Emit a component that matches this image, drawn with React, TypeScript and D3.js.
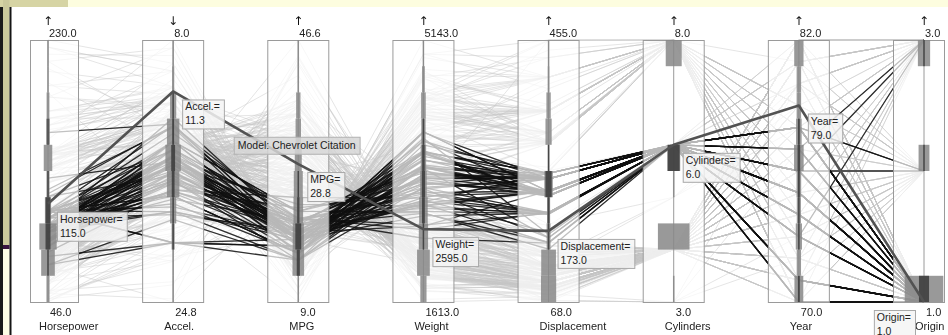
import React, { useEffect, useRef } from 'react';
import * as d3 from 'd3';

const WIDTH = 948;
const HEIGHT = 335;

// Each row: mpg, cylinders, displacement, horsepower, weight, acceleration, model year, origin
const CARS_1970_72: number[][] = [
  [18, 8, 307, 130, 3504, 12, 70, 1], [15, 8, 350, 165, 3693, 11.5, 70, 1], [18, 8, 318, 150, 3436, 11, 70, 1],
  [16, 8, 304, 150, 3433, 12, 70, 1], [17, 8, 302, 140, 3449, 10.5, 70, 1], [15, 8, 429, 198, 4341, 10, 70, 1],
  [14, 8, 454, 220, 4354, 9, 70, 1], [14, 8, 440, 215, 4312, 8.5, 70, 1], [14, 8, 455, 225, 4425, 10, 70, 1],
  [15, 8, 390, 190, 3850, 8.5, 70, 1], [15, 8, 383, 170, 3563, 10, 70, 1], [14, 8, 340, 160, 3609, 8, 70, 1],
  [15, 8, 400, 150, 3761, 9.5, 70, 1], [14, 8, 455, 225, 3086, 10, 70, 1], [24, 4, 113, 95, 2372, 15, 70, 3],
  [22, 6, 198, 95, 2833, 15.5, 70, 1], [18, 6, 199, 97, 2774, 15.5, 70, 1], [21, 6, 200, 85, 2587, 16, 70, 1],
  [27, 4, 97, 88, 2130, 14.5, 70, 3], [26, 4, 97, 46, 1835, 20.5, 70, 2], [25, 4, 110, 87, 2672, 17.5, 70, 2],
  [24, 4, 107, 90, 2430, 14.5, 70, 2], [25, 4, 104, 95, 2375, 17.5, 70, 2], [26, 4, 121, 113, 2234, 12.5, 70, 2],
  [21, 6, 199, 90, 2648, 15, 70, 1], [10, 8, 360, 215, 4615, 14, 70, 1], [10, 8, 307, 200, 4376, 15, 70, 1],
  [11, 8, 318, 210, 4382, 13.5, 70, 1], [9, 8, 304, 193, 4732, 18.5, 70, 1],
  [27, 4, 97, 88, 2130, 14.5, 71, 3], [28, 4, 140, 90, 2264, 15.5, 71, 1], [25, 4, 113, 95, 2228, 14, 71, 3],
  [19, 6, 232, 100, 2634, 13, 71, 1], [16, 6, 225, 105, 3439, 15.5, 71, 1], [17, 6, 250, 100, 3329, 15.5, 71, 1],
  [19, 6, 250, 88, 3302, 15.5, 71, 1], [18, 6, 232, 100, 3288, 15.5, 71, 1], [14, 8, 350, 165, 4209, 12, 71, 1],
  [14, 8, 400, 175, 4464, 11.5, 71, 1], [14, 8, 351, 153, 4154, 13.5, 71, 1], [14, 8, 318, 150, 4096, 13, 71, 1],
  [12, 8, 383, 180, 4955, 11.5, 71, 1], [13, 8, 400, 170, 4746, 12, 71, 1], [13, 8, 400, 175, 5140, 12, 71, 1],
  [18, 6, 258, 110, 2962, 13.5, 71, 1], [22, 4, 140, 72, 2408, 19, 71, 1], [19, 6, 250, 100, 3282, 15, 71, 1],
  [18, 6, 250, 88, 3139, 14.5, 71, 1], [23, 4, 122, 86, 2220, 14, 71, 1], [28, 4, 116, 90, 2123, 14, 71, 2],
  [30, 4, 79, 70, 2074, 19.5, 71, 2], [30, 4, 88, 76, 2065, 14.5, 71, 2], [31, 4, 71, 65, 1773, 19, 71, 3],
  [35, 4, 72, 69, 1613, 18, 71, 3], [27, 4, 97, 60, 1834, 19, 71, 2], [26, 4, 91, 70, 1955, 20.5, 71, 1],
  [24, 4, 113, 95, 2278, 15.5, 72, 3], [25, 4, 97.5, 80, 2126, 17, 72, 1], [23, 4, 97, 54, 2254, 23.5, 72, 2],
  [20, 4, 140, 90, 2408, 19.5, 72, 1], [21, 4, 122, 86, 2226, 16.5, 72, 1], [13, 8, 350, 165, 4274, 12, 72, 1],
  [14, 8, 400, 175, 4385, 12, 72, 1], [14, 8, 351, 153, 4129, 13, 72, 1], [28, 4, 97, 92, 2288, 17, 72, 3],
  [13, 8, 307, 130, 4098, 14, 72, 1], [19, 3, 70, 97, 2330, 13.5, 72, 3], [18, 4, 121, 112, 2933, 14.5, 72, 2],
  [22, 4, 121, 76, 2511, 18, 72, 2], [21, 4, 120, 87, 2979, 19.5, 72, 2], [26, 4, 96, 69, 2189, 18, 72, 2],
  [22, 4, 122, 86, 2395, 16, 72, 1], [23, 4, 120, 97, 2506, 14.5, 72, 3], [12, 8, 429, 198, 4952, 11.5, 72, 1],
  [15, 8, 318, 150, 4135, 13.5, 72, 1], [13, 8, 400, 190, 4422, 12.5, 72, 1],
];

const CARS_1973_75: number[][] = [
  [13, 8, 350, 175, 4100, 13, 73, 1], [14, 8, 304, 150, 3672, 11.5, 73, 1], [13, 8, 350, 145, 3988, 13, 73, 1],
  [12, 8, 400, 167, 4906, 12.5, 73, 1], [13, 8, 302, 137, 4042, 14.5, 73, 1], [11, 8, 429, 208, 4633, 11, 73, 1],
  [12, 8, 455, 225, 4951, 11, 73, 1], [16, 6, 250, 100, 3278, 18, 73, 1], [18, 6, 232, 100, 2945, 16, 73, 1],
  [18, 6, 250, 88, 3021, 16.5, 73, 1], [23, 6, 198, 95, 2904, 16, 73, 1], [26, 4, 97, 46, 1950, 21, 73, 2],
  [20, 4, 97, 88, 2279, 19, 73, 3], [22, 4, 108, 94, 2379, 16.5, 73, 3], [18, 3, 70, 90, 2124, 13.5, 73, 3],
  [19, 4, 122, 85, 2310, 18.5, 73, 1], [21, 6, 155, 107, 2472, 14, 73, 1], [26, 4, 98, 90, 2265, 15.5, 73, 2],
  [15, 8, 350, 145, 4082, 13, 73, 1], [16, 8, 400, 230, 4278, 9.5, 73, 1], [29, 4, 68, 49, 1867, 19.5, 73, 2],
  [24, 4, 116, 75, 2158, 15.5, 73, 2], [20, 4, 114, 91, 2582, 14, 73, 2], [19, 4, 121, 112, 2868, 15.5, 73, 2],
  [15, 8, 318, 150, 3399, 11, 73, 1], [24, 4, 121, 110, 2660, 14, 73, 2], [20, 6, 156, 122, 2807, 13.5, 73, 3],
  [11, 8, 350, 180, 3664, 11, 73, 1], [16, 6, 258, 110, 3632, 18, 73, 1], [17, 6, 231, 110, 3907, 21, 73, 1],
  [20, 6, 198, 95, 3102, 16.5, 74, 1], [21, 6, 200, 85, 2875, 17, 74, 1], [19, 6, 232, 100, 2901, 16, 74, 1],
  [15, 6, 250, 100, 3336, 17, 74, 1], [31, 4, 79, 67, 1950, 19, 74, 3], [26, 4, 122, 80, 2451, 16.5, 74, 1],
  [32, 4, 71, 65, 1836, 21, 74, 3], [25, 4, 140, 75, 2542, 17, 74, 1], [16, 6, 250, 100, 3781, 17, 74, 1],
  [16, 6, 258, 110, 3632, 18, 74, 1], [18, 6, 225, 105, 3613, 16.5, 74, 1], [16, 8, 302, 140, 4141, 14, 74, 1],
  [13, 8, 350, 150, 4699, 14.5, 74, 1], [14, 8, 318, 150, 4457, 13.5, 74, 1], [14, 8, 302, 140, 4638, 16, 74, 1],
  [14, 8, 304, 150, 4257, 15.5, 74, 1], [29, 4, 98, 83, 2219, 16.5, 74, 2], [26, 4, 79, 67, 1963, 15.5, 74, 2],
  [26, 4, 97, 78, 2300, 14.5, 74, 2], [31, 4, 76, 52, 1649, 16.5, 74, 3], [32, 4, 83, 61, 2003, 19, 74, 3],
  [28, 4, 90, 75, 2125, 14.5, 74, 1], [24, 4, 90, 75, 2108, 15.5, 74, 2], [26, 4, 116, 75, 2246, 14, 74, 2],
  [24, 4, 120, 97, 2489, 15, 74, 3], [26, 4, 108, 93, 2391, 15.5, 74, 3], [31, 4, 79, 67, 2000, 16, 74, 2],
  [20, 6, 232, 100, 2914, 16, 75, 1], [15, 6, 250, 72, 3432, 21, 75, 1], [15, 6, 250, 72, 3158, 19.5, 75, 1],
  [16, 8, 400, 170, 4668, 11.5, 75, 1], [15, 8, 350, 145, 4440, 14, 75, 1], [16, 8, 318, 150, 4498, 14.5, 75, 1],
  [14, 8, 351, 148, 4657, 13.5, 75, 1], [17, 6, 231, 110, 3907, 21, 75, 1], [16, 6, 250, 105, 3897, 18.5, 75, 1],
  [15, 6, 258, 110, 3730, 19, 75, 1], [18, 6, 225, 95, 3785, 19, 75, 1], [21, 6, 231, 110, 3039, 15, 75, 1],
  [20, 8, 262, 110, 3221, 13.5, 75, 1], [13, 8, 302, 129, 3169, 12, 75, 1], [29, 4, 97, 75, 2171, 16, 75, 3],
  [23, 4, 140, 83, 2639, 17, 75, 1], [23, 4, 140, 78, 2592, 18.5, 75, 1], [24, 4, 134, 96, 2702, 13.5, 75, 3],
  [25, 4, 90, 71, 2223, 16.5, 75, 2], [24, 4, 119, 97, 2545, 17, 75, 3], [18, 6, 171, 97, 2984, 14.5, 75, 1],
  [29, 4, 90, 70, 1937, 14, 75, 2], [19, 6, 232, 90, 3211, 17, 75, 1], [23, 4, 115, 95, 2694, 15, 75, 2],
  [23, 4, 120, 88, 2957, 17, 75, 2], [22, 4, 121, 98, 2945, 14.5, 75, 2], [25, 4, 121, 115, 2671, 13.5, 75, 2],
  [33, 4, 91, 53, 1795, 17.5, 75, 3], [19, 6, 225, 95, 3264, 16, 75, 1], [18, 6, 250, 105, 3459, 16, 75, 1],
];

const CARS_1976_78: number[][] = [
  [28, 4, 107, 86, 2464, 15.5, 76, 2], [25, 4, 116, 81, 2220, 16.9, 76, 2], [25, 4, 140, 92, 2572, 14.9, 76, 1],
  [26, 4, 98, 79, 2255, 17.7, 76, 1], [27, 4, 101, 83, 2202, 15.3, 76, 2], [17.5, 8, 305, 140, 4215, 13, 76, 1],
  [16, 8, 318, 150, 4190, 13, 76, 1], [15.5, 8, 304, 120, 3962, 13.9, 76, 1], [14.5, 8, 351, 152, 4215, 12.8, 76, 1],
  [22, 6, 250, 105, 3353, 14.5, 76, 1], [22, 6, 225, 100, 3233, 15.4, 76, 1], [24, 6, 200, 81, 3012, 17.6, 76, 1],
  [22.5, 6, 232, 90, 3085, 17.6, 76, 1], [29, 4, 85, 52, 2035, 22.2, 76, 1], [24.5, 4, 98, 60, 2164, 22.1, 76, 1],
  [29, 4, 90, 70, 1937, 14.2, 76, 2], [33, 4, 91, 53, 1795, 17.4, 76, 3], [20, 6, 225, 100, 3651, 17.7, 76, 1],
  [18, 6, 250, 78, 3574, 21, 76, 1], [18.5, 6, 250, 110, 3645, 16.2, 76, 1], [17.5, 6, 258, 95, 3193, 17.8, 76, 1],
  [29.5, 4, 97, 71, 1825, 12.2, 76, 2], [32, 4, 85, 70, 1990, 17, 76, 3], [28, 4, 97, 75, 2155, 16.4, 76, 3],
  [26.5, 4, 140, 72, 2565, 13.6, 76, 1], [20, 4, 130, 102, 3150, 15.7, 76, 2], [13, 8, 318, 150, 3940, 13.2, 76, 1],
  [19, 4, 120, 88, 3270, 21.9, 76, 2], [19, 6, 156, 108, 2930, 15.5, 76, 3], [16.5, 6, 168, 120, 3820, 16.7, 76, 2],
  [16.5, 8, 350, 180, 4380, 12.1, 76, 1], [13, 8, 350, 145, 4055, 12, 76, 1], [13, 8, 302, 130, 3870, 15, 76, 1],
  [31.5, 4, 98, 68, 2045, 18.5, 77, 3], [30, 4, 111, 80, 2155, 14.8, 77, 1], [36, 4, 79, 58, 1825, 18.6, 77, 2],
  [25.5, 4, 122, 96, 2300, 15.5, 77, 1], [33.5, 4, 85, 70, 1945, 16.8, 77, 3], [17.5, 8, 305, 145, 3880, 12.5, 77, 1],
  [17, 8, 260, 110, 4060, 19, 77, 1], [15.5, 8, 318, 145, 4140, 13.7, 77, 1], [15, 8, 302, 130, 4295, 14.9, 77, 1],
  [17.5, 6, 250, 110, 3520, 16.4, 77, 1], [20.5, 6, 231, 105, 3425, 16.9, 77, 1], [19, 6, 225, 100, 3630, 17.7, 77, 1],
  [18.5, 6, 250, 98, 3525, 19, 77, 1], [16, 8, 400, 180, 4220, 11.1, 77, 1], [15.5, 8, 350, 170, 4165, 11.4, 77, 1],
  [15.5, 8, 400, 190, 4325, 12.2, 77, 1], [16, 8, 351, 149, 4335, 14.5, 77, 1], [29, 4, 97, 78, 1940, 14.5, 77, 2],
  [24.5, 4, 151, 88, 2740, 16, 77, 1], [26, 4, 97, 75, 2265, 18.2, 77, 3], [25.5, 4, 140, 89, 2755, 15.8, 77, 1],
  [30.5, 4, 98, 63, 2051, 17, 77, 1], [33.5, 4, 98, 83, 2075, 15.9, 77, 1], [30, 4, 97, 67, 1985, 16.4, 77, 3],
  [30.5, 4, 97, 78, 2190, 14.1, 77, 2], [22, 6, 146, 97, 2815, 14.5, 77, 3], [21.5, 4, 121, 110, 2600, 12.8, 77, 2],
  [21.5, 3, 80, 110, 2720, 13.5, 77, 3], [43.1, 4, 90, 48, 1985, 21.5, 78, 2], [36.1, 4, 98, 66, 1800, 14.4, 78, 1],
  [32.8, 4, 78, 52, 1985, 19.4, 78, 3], [39.4, 4, 85, 70, 2070, 18.6, 78, 3], [36.1, 4, 91, 60, 1800, 16.4, 78, 3],
  [19.9, 8, 260, 110, 3365, 15.5, 78, 1], [19.4, 8, 318, 140, 3735, 13.2, 78, 1], [20.2, 8, 302, 139, 3570, 12.8, 78, 1],
  [19.2, 6, 231, 105, 3535, 19.2, 78, 1], [20.5, 6, 200, 95, 3155, 18.2, 78, 1], [20.2, 6, 200, 85, 2965, 15.8, 78, 1],
  [25.1, 4, 140, 88, 2720, 15.4, 78, 1], [20.5, 6, 225, 100, 3430, 17.2, 78, 1], [19.4, 6, 232, 90, 3210, 17.2, 78, 1],
  [20.6, 6, 231, 105, 3380, 15.8, 78, 1], [20.8, 6, 200, 85, 3070, 16.7, 78, 1], [18.6, 6, 225, 110, 3620, 18.7, 78, 1],
  [18.1, 6, 258, 120, 3410, 15.1, 78, 1], [19.2, 8, 305, 145, 3425, 13.2, 78, 1], [17.7, 6, 231, 165, 3445, 13.4, 78, 1],
  [18.1, 8, 302, 139, 3205, 11.2, 78, 1], [17.5, 8, 318, 140, 4080, 13.7, 78, 1], [30, 4, 98, 68, 2155, 16.5, 78, 1],
  [27.5, 4, 134, 95, 2560, 14.2, 78, 3], [27.2, 4, 119, 97, 2300, 14.7, 78, 3], [30.9, 4, 105, 75, 2230, 14.5, 78, 1],
  [21.1, 4, 134, 95, 2515, 14.8, 78, 3], [23.2, 4, 156, 105, 2745, 16.7, 78, 1], [23.8, 4, 151, 85, 2855, 17.6, 78, 1],
  [23.9, 4, 119, 97, 2405, 14.9, 78, 3], [20.3, 5, 131, 103, 2830, 15.9, 78, 2], [17, 6, 163, 125, 3140, 13.6, 78, 2],
  [21.6, 4, 121, 115, 2795, 15.7, 78, 2], [16.2, 6, 163, 133, 3410, 15.8, 78, 2], [31.5, 4, 89, 71, 1990, 14.9, 78, 2],
  [29.5, 4, 98, 68, 2135, 16.6, 78, 3],
];

const CARS_1979_82: number[][] = [
  [21.5, 6, 231, 115, 3245, 15.4, 79, 1], [19.8, 6, 200, 85, 2990, 18.2, 79, 1], [22.3, 4, 140, 88, 2890, 17.3, 79, 1],
  [20.2, 6, 232, 90, 3265, 18.2, 79, 1], [20.6, 6, 225, 110, 3360, 16.6, 79, 1], [17, 8, 305, 130, 3840, 15.4, 79, 1],
  [17.6, 8, 302, 129, 3725, 13.4, 79, 1], [16.5, 8, 351, 138, 3955, 13.2, 79, 1], [18.2, 8, 318, 135, 3830, 15.2, 79, 1],
  [16.9, 8, 350, 155, 4360, 14.9, 79, 1], [15.5, 8, 351, 142, 4054, 14.3, 79, 1], [19.2, 8, 267, 125, 3605, 15, 79, 1],
  [18.5, 8, 360, 150, 3940, 13, 79, 1], [31.9, 4, 89, 71, 1925, 14, 79, 2], [34.1, 4, 86, 65, 1975, 15.2, 79, 3],
  [35.7, 4, 98, 80, 1915, 14.4, 79, 1], [27.4, 4, 121, 80, 2670, 15, 79, 1], [25.4, 5, 183, 77, 3530, 20.1, 79, 2],
  [23, 8, 350, 125, 3900, 17.4, 79, 1], [27.2, 4, 141, 71, 3190, 24.8, 79, 2], [23.9, 8, 260, 90, 3420, 22.2, 79, 1],
  [34.2, 4, 105, 70, 2200, 13.2, 79, 1], [34.5, 4, 105, 70, 2150, 14.9, 79, 1], [31.8, 4, 85, 65, 2020, 19.2, 79, 3],
  [37.3, 4, 91, 69, 2130, 14.7, 79, 2], [28.4, 4, 151, 90, 2670, 16, 79, 1], [28.8, 6, 173, 115, 2595, 11.3, 79, 1],
  [26.8, 6, 173, 115, 2700, 12.9, 79, 1], [33.5, 4, 151, 90, 2556, 13.2, 79, 1], [41.5, 4, 98, 76, 2144, 14.7, 80, 2],
  [38.1, 4, 89, 60, 1968, 18.8, 80, 3], [32.1, 4, 98, 70, 2120, 15.5, 80, 1], [37.2, 4, 86, 65, 2019, 16.4, 80, 3],
  [28, 4, 151, 90, 2678, 16.5, 80, 1], [26.4, 4, 140, 88, 2870, 18.1, 80, 1], [24.3, 4, 151, 90, 3003, 20.1, 80, 1],
  [19.1, 6, 225, 90, 3381, 18.7, 80, 1], [34.3, 4, 97, 78, 2188, 15.8, 80, 2], [29.8, 4, 134, 90, 2711, 15.5, 80, 3],
  [31.3, 4, 120, 75, 2542, 17.5, 80, 3], [37, 4, 119, 92, 2434, 15, 80, 3], [32.2, 4, 108, 75, 2265, 15.2, 80, 3],
  [46.6, 4, 86, 65, 2110, 17.9, 80, 3], [27.9, 4, 156, 105, 2800, 14.4, 80, 1], [40.8, 4, 85, 65, 2110, 19.2, 80, 3],
  [44.3, 4, 90, 48, 2085, 21.7, 80, 2], [43.4, 4, 90, 48, 2335, 23.7, 80, 2], [36.4, 5, 121, 67, 2950, 19.9, 80, 2],
  [30, 4, 146, 67, 3250, 21.8, 80, 2], [32.7, 6, 168, 132, 2910, 11.4, 80, 3], [23.7, 3, 70, 100, 2420, 12.5, 80, 3],
  [35, 4, 122, 88, 2500, 15.1, 80, 2], [32.4, 4, 107, 72, 2290, 17, 80, 3], [27.2, 4, 135, 84, 2490, 15.7, 81, 1],
  [26.6, 4, 151, 84, 2635, 16.4, 81, 1], [25.8, 4, 156, 92, 2620, 14.4, 81, 1], [23.5, 6, 173, 110, 2725, 12.6, 81, 1],
  [30, 4, 135, 84, 2385, 12.9, 81, 1], [39, 4, 79, 58, 1755, 16.9, 81, 3], [35.1, 4, 81, 60, 1760, 16.1, 81, 3],
  [32.3, 4, 97, 67, 2065, 17.8, 81, 3], [37, 4, 85, 65, 1975, 19.4, 81, 3], [37.7, 4, 89, 62, 2050, 17.3, 81, 3],
  [34.1, 4, 91, 68, 1985, 16, 81, 3], [34.7, 4, 105, 63, 2215, 14.9, 81, 1], [34.4, 4, 98, 65, 2045, 16.2, 81, 1],
  [29.9, 4, 98, 65, 2380, 20.7, 81, 1], [33, 4, 105, 74, 2190, 14.2, 81, 2], [33.7, 4, 107, 75, 2210, 14.4, 81, 3],
  [32.4, 4, 108, 75, 2350, 16.8, 81, 3], [32.9, 4, 119, 100, 2615, 14.8, 81, 3], [31.6, 4, 120, 74, 2635, 18.3, 81, 3],
  [28.1, 4, 141, 80, 3230, 20.4, 81, 2], [30.7, 6, 145, 76, 3160, 19.6, 81, 2], [25.4, 6, 168, 116, 2900, 12.6, 81, 3],
  [24.2, 6, 146, 120, 2930, 13.8, 81, 3], [22.4, 6, 231, 110, 3415, 15.8, 81, 1], [26.6, 8, 350, 105, 3725, 19, 81, 1],
  [20.2, 6, 200, 88, 3060, 17.1, 81, 1], [17.6, 6, 225, 85, 3465, 16.6, 81, 1], [28, 4, 112, 88, 2605, 19.6, 82, 1],
  [27, 4, 112, 88, 2640, 18.6, 82, 1], [34, 4, 112, 88, 2395, 18, 82, 1], [31, 4, 112, 85, 2575, 16.2, 82, 1],
  [29, 4, 135, 84, 2525, 16, 82, 1], [27, 4, 151, 90, 2735, 18, 82, 1], [24, 4, 140, 92, 2865, 16.4, 82, 1],
  [36, 4, 105, 74, 1980, 15.3, 82, 2], [37, 4, 91, 68, 2025, 18.2, 82, 3], [31, 4, 91, 68, 1970, 17.6, 82, 3],
  [38, 4, 105, 63, 2125, 14.7, 82, 1], [36, 4, 98, 70, 2125, 17.3, 82, 1], [36, 4, 120, 88, 2160, 14.5, 82, 3],
  [36, 4, 107, 75, 2205, 14.5, 82, 3], [34, 4, 108, 70, 2245, 16.9, 82, 3], [38, 4, 91, 67, 1965, 15, 82, 3],
  [32, 4, 91, 67, 1965, 15.7, 82, 3], [38, 6, 262, 85, 3015, 17, 82, 1], [25, 6, 181, 110, 2945, 16.4, 82, 1],
  [26, 4, 156, 92, 2585, 14.5, 82, 1], [22, 6, 232, 112, 2835, 14.7, 82, 1], [32, 4, 144, 96, 2665, 13.9, 82, 3],
  [36, 4, 135, 84, 2370, 13, 82, 1], [27, 4, 151, 90, 2950, 17.3, 82, 1], [27, 4, 140, 86, 2790, 15.6, 82, 1],
  [44, 4, 97, 52, 2130, 24.6, 82, 2], [32, 4, 135, 84, 2295, 11.6, 82, 1], [28, 4, 120, 79, 2625, 18.6, 82, 1],
  [31, 4, 119, 82, 2720, 19.4, 82, 1],
];

// Car under the pointer
const FOCUS_CAR = [28.8, 6, 173, 115, 2595, 11.3, 79, 1];
const FOCUS_MODEL = 'Chevrolet Citation';

// Brushed subset: six-cylinder cars up to model year 78
const BRUSH_CYLINDERS = 6;
const BRUSH_LAST_YEAR = 78;

const DIMENSIONS = ['Horsepower', 'Accel.', 'MPG', 'Weight', 'Displacement', 'Cylinders', 'Year', 'Origin'];
const DIM_COLUMN = [3, 5, 0, 4, 2, 1, 6, 7];
const DIM_TOP = [230, 8, 46.6, 5143, 455, 8, 82, 3];
const DIM_BOTTOM = [46, 24.8, 9, 1613, 68, 3, 70, 1];
const DIM_ARROW = ['↑', '↓', '↑', '↑', '↑', '↑', '↑', '↑'];

// Ten-bin histograms per axis, listed from the bottom of the axis to the top
const HIST_ALL = [
  [20, 88, 112, 40, 20, 55, 25, 18, 4, 8],
  [3, 6, 20, 40, 80, 100, 80, 40, 14, 5],
  [6, 75, 72, 62, 58, 45, 35, 28, 10, 4],
  [40, 82, 60, 55, 42, 35, 28, 30, 18, 8],
  [98, 95, 25, 20, 55, 10, 40, 28, 12, 8],
  [4, 0, 204, 0, 3, 84, 0, 0, 0, 103],
  [57, 28, 40, 27, 30, 62, 36, 29, 29, 60],
  [249, 0, 0, 0, 0, 70, 0, 0, 0, 79],
];
const HIST_BRUSHED = [
  [0, 6, 32, 30, 3, 0, 1, 0, 0, 0],
  [0, 0, 2, 6, 18, 25, 12, 3, 0, 0],
  [0, 20, 38, 15, 2, 0, 0, 0, 0, 0],
  [0, 0, 4, 18, 20, 16, 5, 0, 0, 0],
  [0, 0, 5, 12, 40, 3, 0, 0, 0, 0],
  [0, 0, 0, 0, 0, 76, 0, 0, 0, 0],
  [12, 0, 8, 7, 12, 17, 12, 0, 0, 0],
  [65, 0, 0, 0, 0, 3, 0, 0, 0, 4],
];

const FONT = '"Liberation Sans", Arial, sans-serif';

export default function App() {
  const ref = useRef<SVGSVGElement>(null);

  useEffect(() => {
    const svg = d3.select(ref.current);
    svg.selectAll('*').remove();

    // pass-through filter: text drawn through it is smoothed in plain grey
    svg.append('defs')
      .append('filter')
      .attr('id', 'grey-text')
      .append('feOffset')
      .attr('dx', 0)
      .attr('dy', 0);

    const cars = [...CARS_1970_72, ...CARS_1973_75, ...CARS_1976_78, ...CARS_1979_82];
    const brushed = cars.filter((c) => c[1] === BRUSH_CYLINDERS && c[6] <= BRUSH_LAST_YEAR);

    const top = 40;
    const bottom = 302;
    const x = d3.scalePoint<string>().domain(DIMENSIONS).range([48, 924]);
    const y = DIMENSIONS.map((_, i) =>
      d3.scaleLinear().domain([DIM_BOTTOM[i], DIM_TOP[i]]).range([bottom, top])
    );
    const barWidth = d3.scaleLinear().domain([0, 200]).range([0, 31]);

    const line = d3
      .line<number>()
      .x((_, i) => x(DIMENSIONS[i]) as number)
      .y((v, i) => y[i](v));
    const pathOf = (car: number[]) => line(DIM_COLUMN.map((c) => car[c]));

    // page chrome
    svg.append('rect').attr('width', WIDTH).attr('height', HEIGHT).attr('fill', '#ffffff');
    svg.append('rect').attr('width', WIDTH).attr('height', 7).attr('fill', '#fdfddf');
    svg.append('rect').attr('width', 68).attr('height', 7).attr('fill', '#d6d4a4');
    svg.append('rect').attr('x', 0).attr('y', 7).attr('width', 3).attr('height', HEIGHT - 7).attr('fill', '#1a1a1a');
    svg.append('rect').attr('x', 3).attr('y', 0).attr('width', 6.5).attr('height', 245).attr('fill', '#cbc99c');
    svg.append('rect').attr('x', 3).attr('y', 245).attr('width', 6.5).attr('height', 4).attr('fill', '#3a1442');
    svg.append('rect').attr('x', 3).attr('y', 249).attr('width', 6.5).attr('height', HEIGHT - 249).attr('fill', '#fdfde6');
    svg.append('rect').attr('x', 9.5).attr('y', 7).attr('width', 2).attr('height', HEIGHT - 7).attr('fill', '#151515');

    // context lines
    svg.append('g')
      .selectAll('path')
      .data(cars)
      .join('path')
      .attr('d', pathOf)
      .attr('fill', 'none')
      .attr('stroke', '#c6c6c6')
      .attr('stroke-opacity', 0.45)
      .attr('stroke-width', 1);

    // brushed lines
    svg.append('g')
      .selectAll('path')
      .data(brushed)
      .join('path')
      .attr('d', pathOf)
      .attr('fill', 'none')
      .attr('stroke', '#111111')
      .attr('stroke-opacity', 0.85)
      .attr('stroke-width', 1.3);

    // axis frames
    const frames = svg.append('g');
    DIMENSIONS.forEach((d) => {
      const ax = x(d) as number;
      const x0 = Math.max(30, ax - 31);
      const x1 = Math.min(945, ax + 31);
      frames.append('rect')
        .attr('x', x0 + 0.5).attr('y', top + 0.5)
        .attr('width', x1 - x0 - 1).attr('height', bottom - top)
        .attr('fill', '#ffffff').attr('fill-opacity', 0.7)
        .attr('stroke', '#9a9a9a').attr('stroke-width', 1);
      frames.append('line')
        .attr('x1', ax).attr('x2', ax).attr('y1', top).attr('y2', bottom)
        .attr('stroke', '#9a9a9a').attr('stroke-width', 1);
    });

    // histograms on each axis
    const hist = svg.append('g');
    DIMENSIONS.forEach((d, i) => {
      const ax = x(d) as number;
      const step = (DIM_TOP[i] - DIM_BOTTOM[i]) / 10;
      const drawBins = (counts: number[], fill: string, opacity: number) => {
        counts.forEach((n, j) => {
          if (!n) return;
          const lo = y[i](DIM_BOTTOM[i] + j * step);
          const hi = y[i](DIM_BOTTOM[i] + (j + 1) * step);
          const w = Math.max(1.5, barWidth(n));
          hist.append('rect')
            .attr('x', ax - w / 2).attr('y', Math.min(lo, hi))
            .attr('width', w).attr('height', Math.abs(lo - hi))
            .attr('fill', fill).attr('fill-opacity', opacity);
        });
      };
      drawBins(HIST_ALL[i], '#878787', 0.85);
      drawBins(HIST_BRUSHED[i], '#3a3a3a', 0.85);
    });

    // focused car
    svg.append('path')
      .attr('d', pathOf(FOCUS_CAR))
      .attr('fill', 'none')
      .attr('stroke', '#525252')
      .attr('stroke-width', 2.6)
      .attr('stroke-linejoin', 'round');

    const fmt = d3.format('.1f');
    const labels = svg.append('g')
      .attr('font-family', FONT).attr('font-size', 11).attr('fill', '#222')
      .attr('filter', 'url(#grey-text)');

    // sort direction arrows
    const arrows = svg.append('g')
      .attr('font-family', '"DejaVu Sans", sans-serif')
      .attr('font-size', 12)
      .attr('fill', '#111')
      .attr('filter', 'url(#grey-text)');

    // axis end labels: sort direction arrow, top value, bottom value, name
    DIMENSIONS.forEach((d, i) => {
      const ax = x(d) as number;
      arrows.append('text').attr('x', ax).attr('y', 25).attr('text-anchor', 'middle').text(DIM_ARROW[i]);
      labels.append('text').attr('x', ax + 1).attr('y', 37).text(fmt(DIM_TOP[i]));
      labels.append('text').attr('x', ax + 2).attr('y', 316).text(fmt(DIM_BOTTOM[i]));
      labels.append('text').attr('x', ax - 9).attr('y', 330).text(d);
    });

    // value tooltips for the focused car
    const tips = svg.append('g').attr('font-family', FONT).attr('font-size', 10.5);
    DIMENSIONS.forEach((d, i) => {
      const ax = x(d) as number;
      const v = FOCUS_CAR[DIM_COLUMN[i]];
      const py = y[i](v);
      const g = tips.append('g');
      const rect = g.append('rect');
      const t1 = g.append('text').attr('fill', '#222').text(`${d}=`);
      const t2 = g.append('text').attr('fill', '#222').text(fmt(v));
      const tw = Math.max(
        (t1.node() as SVGTextElement).getComputedTextLength(),
        (t2.node() as SVGTextElement).getComputedTextLength()
      );
      const bw = tw + 7;
      let bx = ax + 9;
      if (bx + bw > 945) bx = ax - 9 - bw;
      const by = py + 8;
      rect.attr('x', bx + 0.5).attr('y', by + 0.5).attr('width', bw).attr('height', 29)
        .attr('fill', '#f4f4f4').attr('fill-opacity', 0.85)
        .attr('stroke', '#a8a8a8');
      t1.attr('x', bx + 3).attr('y', by + 11);
      t2.attr('x', bx + 3).attr('y', by + 25);
    });

    // model name tooltip between the Accel. and MPG axes
    {
      const xa = x('Accel.') as number;
      const xm = x('MPG') as number;
      const ya = y[1](FOCUS_CAR[DIM_COLUMN[1]]);
      const ym = y[2](FOCUS_CAR[DIM_COLUMN[2]]);
      const bx = (xa + xm) / 2 - 2;
      const by = (ya + ym) / 2 + 9;
      const g = tips.append('g');
      const rect = g.append('rect');
      const t = g.append('text').attr('fill', '#222').text(`Model: ${FOCUS_MODEL}`);
      const tw = (t.node() as SVGTextElement).getComputedTextLength();
      rect.attr('x', bx + 0.5).attr('y', by + 0.5).attr('width', tw + 8).attr('height', 17)
        .attr('fill', '#d6d6d6').attr('fill-opacity', 0.85).attr('stroke', '#b0b0b0');
      t.attr('x', bx + 4).attr('y', by + 12);
    }
  }, []);

  return (
    <svg
      ref={ref}
      width={WIDTH}
      height={HEIGHT}
      style={{ position: 'absolute', left: 0, top: 0, display: 'block' }}
    />
  );
}
